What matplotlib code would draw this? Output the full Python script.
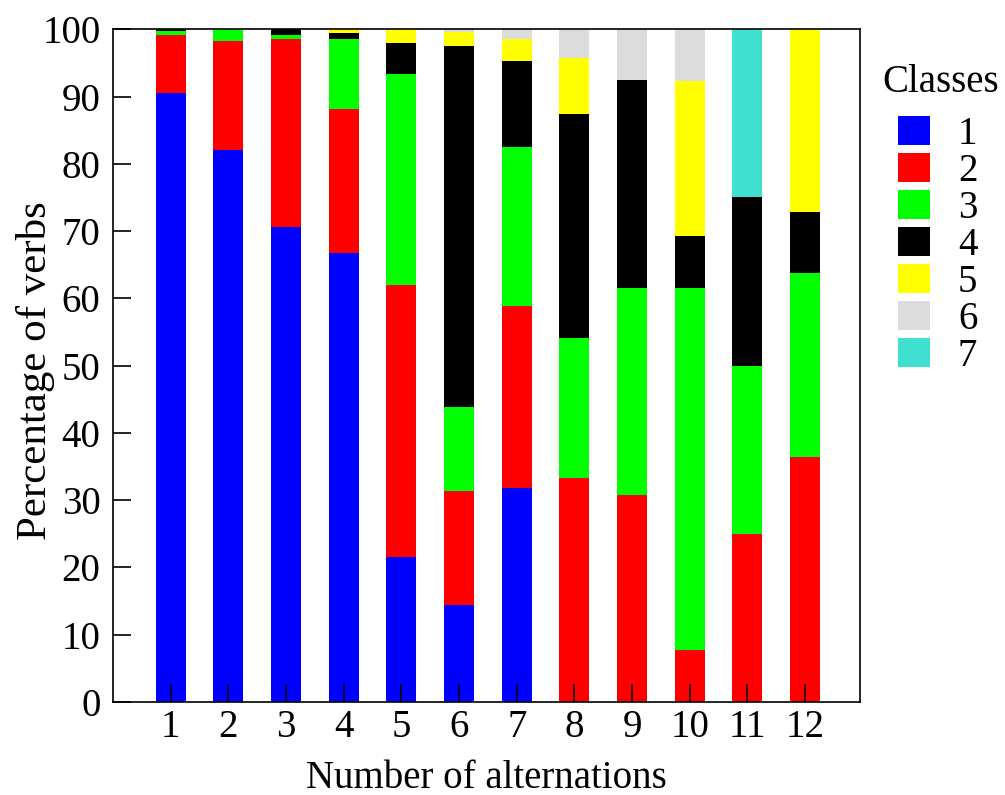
import matplotlib.pyplot as plt
from matplotlib.patches import Patch
import numpy as np

plt.rcParams['font.family'] = ['Liberation Serif', 'DejaVu Serif']

alternations = [1, 2, 3, 4, 5, 6, 7, 8, 9, 10, 11, 12]
class_names = ['1', '2', '3', '4', '5', '6', '7']
class_colors = ['#0000ff', '#ff0000', '#00ff00', '#000000', '#ffff00', '#dcdcdc', '#40e0d0']

# percentage of verbs per class, one list per class (index = number of alternations - 1)
class1 = [90.5, 82.1, 70.6, 66.7, 21.6, 14.4, 31.8, 0, 0, 0, 0, 0]
class2 = [8.6, 16.1, 27.9, 21.5, 40.4, 17.0, 27.0, 33.3, 30.8, 7.7, 25.0, 36.4]
class3 = [0.6, 1.8, 0.6, 10.3, 31.4, 12.4, 23.7, 20.8, 30.8, 53.8, 25.0, 27.3]
class4 = [0.3, 0, 0.9, 1.0, 4.5, 53.75, 12.8, 33.3, 30.8, 7.7, 25.0, 9.1]
class5 = [0, 0, 0, 0.5, 2.1, 2.0, 3.25, 8.3, 0, 23.1, 0, 27.3]
class6 = [0, 0, 0, 0, 0, 0.45, 1.45, 4.2, 7.7, 7.7, 0, 0]
class7 = [0, 0, 0, 0, 0, 0, 0, 0, 0, 0, 25.0, 0]
series = [class1, class2, class3, class4, class5, class6, class7]

fig = plt.figure(figsize=(10.05, 7.95), dpi=100)
ax = fig.add_axes([0.1124, 0.1173, 0.7433, 0.8458])

x = np.array(alternations)
bottom = np.zeros(len(x))
for vals, col in zip(series, class_colors):
    vals = np.array(vals)
    ax.bar(x, vals, width=0.52, bottom=bottom, color=col, linewidth=0)
    bottom += vals

ax.set_xlim(0, 12.95)
ax.set_ylim(0, 100)
ax.set_xticks(x)
ax.set_yticks(np.arange(0, 101, 10))
ax.tick_params(axis='both', direction='in', length=13, width=1.2, labelsize=28)
ax.tick_params(axis='x', pad=5)
ax.tick_params(axis='y', pad=9)
for s in ax.spines.values():
    s.set_linewidth(1.2)

ax.set_xlabel('Number of alternations', fontsize=28, va='top')
ax.xaxis.set_label_coords(0.5, -0.086)
ax.set_ylabel('Percentage of verbs', fontsize=31)
ax.yaxis.set_label_coords(-0.077, 0.492)

# legend: title placed on its own, entries below it
fig.text(941 / 1005, 1 - 92 / 795, 'Classes', fontsize=28, ha='center', va='baseline')
handles = [Patch(facecolor=c, edgecolor='none') for c in class_colors]
leg = fig.legend(handles, class_names, loc='upper left',
                 bbox_to_anchor=(898 / 1005, 1 - 116 / 795), frameon=False,
                 fontsize=28, handlelength=0.82, handleheight=0.77,
                 labelspacing=0.0, handletextpad=0.72, borderpad=0,
                 borderaxespad=0)

fig.savefig('out.png', dpi=100)
